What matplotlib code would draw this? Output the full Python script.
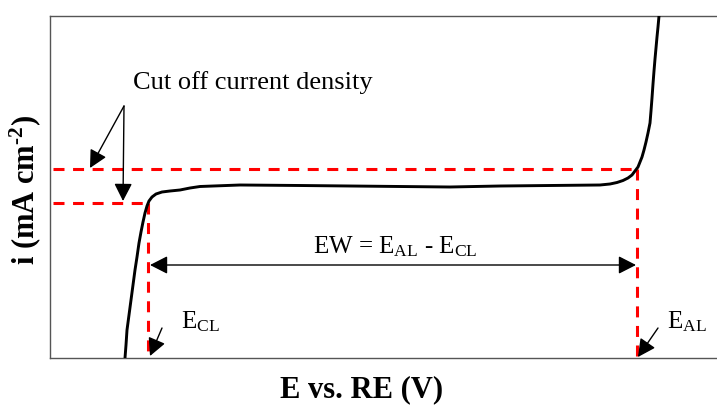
import matplotlib
matplotlib.use("Agg")
import matplotlib.pyplot as plt

plt.rcParams['font.family'] = ['Liberation Serif', 'DejaVu Serif']
plt.rcParams['mathtext.fontset'] = 'custom'
plt.rcParams['mathtext.rm'] = 'Liberation Serif'
plt.rcParams['mathtext.bf'] = 'Liberation Serif:bold'
plt.rcParams['mathtext.it'] = 'Liberation Serif:italic'

# Polarization curve (arbitrary units): potential E, current density i
E = [75, 76, 77, 79, 81, 83, 85, 87, 89, 91, 93, 95, 97, 99, 102, 106, 112, 120, 130, 140,
     150, 190, 250, 300, 350, 400, 450, 500,
     550, 560, 567, 573, 578, 582, 585, 588, 590, 592, 594, 596, 598, 600, 601, 602,
     603, 604, 605, 606, 607, 608, 609]
I = [0, 13, 28, 43, 58, 73, 88, 101, 115, 126, 136, 145, 152, 157, 161, 164, 166, 167, 168, 170,
     171.5, 173, 172.5, 172, 171.5, 171, 172, 172.5,
     173, 174, 175.5, 177.5, 180, 183, 187, 191, 196, 201, 208, 216, 225, 235, 247, 260,
     274, 287, 299, 310, 321, 331, 342]

# cut-off current densities and limits
i_cut_high = 189
i_cut_low = 155
E_CL = 98
E_AL = 587
x_left = 3

fig = plt.figure(figsize=(7.17, 4.07), dpi=100)
ax = fig.add_axes([50/717, 49/407, 667/717, 342/407])
ax.set_xlim(0, 667)
ax.set_ylim(0, 342)
ax.set_xticks([])
ax.set_yticks([])
for s in ['left', 'top', 'bottom']:
    ax.spines[s].set_color('#555555')
    ax.spines[s].set_linewidth(1.0)
ax.spines['right'].set_visible(False)

red_kw = dict(color='#ff0000', lw=2.2, dashes=(3.6, 2.8), zorder=2)
ax.plot([x_left, E_AL], [i_cut_high, i_cut_high], **red_kw)
ax.plot([x_left, E_CL], [i_cut_low, i_cut_low], **red_kw)
ax.plot([E_CL, E_CL], [i_cut_low, 0], **red_kw)
ax.plot([E_AL, E_AL], [i_cut_high, 0], **red_kw)

ax.plot(E, I, color='black', lw=2.1, solid_capstyle='round', solid_joinstyle='round', zorder=3)

arr = dict(arrowstyle='-|>,head_length=0.49,head_width=0.25', mutation_scale=22, lw=1.0,
           color='black', shrinkA=0, shrinkB=0)
ax.annotate('', xy=(40, 190), xytext=(74, 252), arrowprops=arr)
ax.annotate('', xy=(73, 157), xytext=(74, 252), arrowprops=arr)
ax.text(203, 275, 'Cut off current density', fontsize=19, ha='center', va='center')

darr = dict(arrowstyle='<|-|>,head_length=0.49,head_width=0.25', mutation_scale=22, lw=1.0,
            color='black', shrinkA=0, shrinkB=0)
ax.annotate('', xy=(100, 93), xytext=(586, 93), arrowprops=darr)
ax.text(345, 111, r'EW = E$_{\mathrm{AL}}$ - E$_{\mathrm{CL}}$', fontsize=18, ha='center', va='center')

ax.annotate('', xy=(100, 2), xytext=(112, 30), arrowprops=arr)
ax.text(131, 36, r'E$_{\mathrm{CL}}$', fontsize=18, ha='left', va='center')
ax.annotate('', xy=(588, 1), xytext=(608, 30), arrowprops=arr)
ax.text(617, 36, r'E$_{\mathrm{AL}}$', fontsize=18, ha='left', va='center')

fig.text(25/717, 1 - 190/407, r'i (mA cm$^{\mathbf{\text{-}2}}$)', rotation=90, fontsize=22,
         fontweight='bold', ha='center', va='center')
fig.text(362/717, 1 - 390/407, 'E vs. RE (V)', fontsize=22, fontweight='bold',
         ha='center', va='center')

fig.savefig('out.png', dpi=100)
